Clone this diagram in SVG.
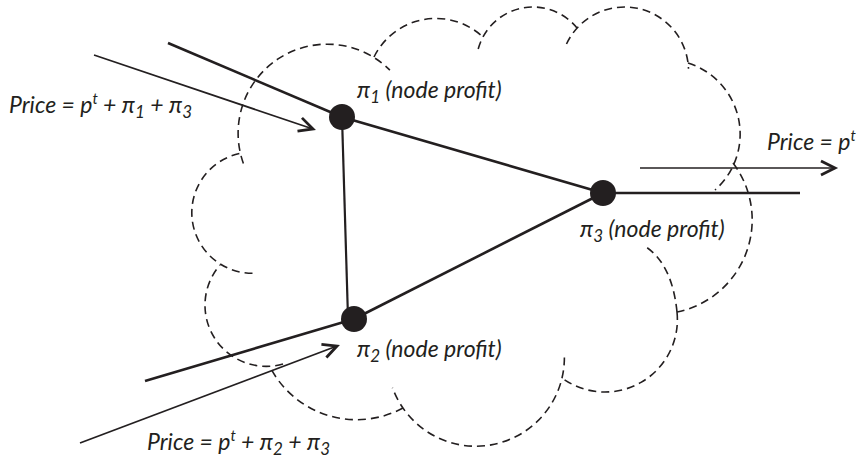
<svg xmlns="http://www.w3.org/2000/svg" width="859" height="462" viewBox="0 0 859 462">
  <style>
    .cloud { fill: none; stroke: #231f20; stroke-width: 1.6; stroke-dasharray: 8 5; }
    .thick { fill: none; stroke: #231f20; stroke-width: 2.6; }
    .mid { fill: none; stroke: #231f20; stroke-width: 2.2; }
    .thin { fill: none; stroke: #231f20; stroke-width: 1.7; }
    .node { fill: #231f20; }
    .lbl { font-family: Lato, "Liberation Sans", sans-serif; font-style: italic; font-size: 23px; fill: #231f20; }
    .sub { font-size: 17px; }
    .sup { font-size: 15px; }
  </style>
  <defs>
    <marker id="arr" markerUnits="userSpaceOnUse" markerWidth="30" markerHeight="30" viewBox="-20 -15 30 30" refX="0" refY="0" orient="auto" overflow="visible">
      <path d="M-14,-7 L0,0 L-14,7" fill="none" stroke="#231f20" stroke-width="2.8"/>
    </marker>
  </defs>

  <g id="cloud">
    <path class="cloud" d="M243.4,163.4 A89,89 0 0 1 389.9,70.1"/>
    <path class="cloud" d="M374,57 A69,69 0 0 1 483,37"/>
    <path class="cloud" d="M478.2,49 A56.7,56.7 0 0 1 577,28"/>
    <path class="cloud" d="M566.5,44 A64,64 0 0 1 688.5,68.8"/>
    <path class="cloud" d="M688,63 A74.6,74.6 0 0 1 715,190"/>
    <path class="cloud" d="M733,163 A94,94 0 0 1 677,312"/>
    <path class="cloud" d="M677,312 A72.5,72.5 0 0 1 562,378"/>
    <path class="cloud" d="M677,312 Q672,262 643,245"/>
    <path class="cloud" d="M564.4,357.5 A88.6,88.6 0 0 1 392.5,387.8"/>
    <path class="cloud" d="M403,408 A97.6,97.6 0 0 1 270,367"/>
    <path class="cloud" d="M283,364 A61.2,61.2 0 0 1 220,265"/>
    <path class="cloud" d="M252.5,273.3 A60.6,60.6 0 0 1 242,153"/>
  </g>

  <g id="connectors">
    <line class="thick" x1="168" y1="43" x2="342" y2="117"/>
    <line class="thick" x1="342" y1="117" x2="603" y2="193"/>
    <line class="mid" x1="342" y1="117" x2="348" y2="318"/>
    <line class="thick" x1="354" y1="319" x2="603" y2="193"/>
    <line class="thick" x1="145" y1="381" x2="354" y2="319"/>
    <line class="thick" x1="603" y1="193" x2="800" y2="193"/>
    <line class="thin" x1="94" y1="55" x2="313" y2="129" marker-end="url(#arr)"/>
    <line class="thin" x1="640" y1="168" x2="835" y2="168" marker-end="url(#arr)"/>
    <line class="thin" x1="80" y1="443" x2="337" y2="346" marker-end="url(#arr)"/>
  </g>

  <g id="node-pi1">
    <circle class="node" cx="342" cy="117" r="13"/>
    <text class="lbl" x="357" y="98">π<tspan class="sub" dy="5">1</tspan><tspan dy="-5"> (node profit)</tspan></text>
  </g>
  <g id="node-pi2">
    <circle class="node" cx="354" cy="319" r="13"/>
    <text class="lbl" x="357" y="357">π<tspan class="sub" dy="5">2</tspan><tspan dy="-5"> (node profit)</tspan></text>
  </g>
  <g id="node-pi3">
    <circle class="node" cx="603" cy="193" r="13"/>
    <text class="lbl" x="580" y="237">π<tspan class="sub" dy="5">3</tspan><tspan dy="-5"> (node profit)</tspan></text>
  </g>

  <g id="price-labels">
    <text class="lbl" x="9" y="113">Price = p<tspan class="sup" dy="-9">t</tspan><tspan dy="9"> + π</tspan><tspan class="sub" dy="5">1</tspan><tspan dy="-5"> + π</tspan><tspan class="sub" dy="5">3</tspan></text>
    <text class="lbl" x="767" y="150">Price = p<tspan class="sup" dy="-9">t</tspan></text>
    <text class="lbl" x="147" y="450">Price = p<tspan class="sup" dy="-9">t</tspan><tspan dy="9"> + π</tspan><tspan class="sub" dy="5">2</tspan><tspan dy="-5"> + π</tspan><tspan class="sub" dy="5">3</tspan></text>
  </g>
</svg>
